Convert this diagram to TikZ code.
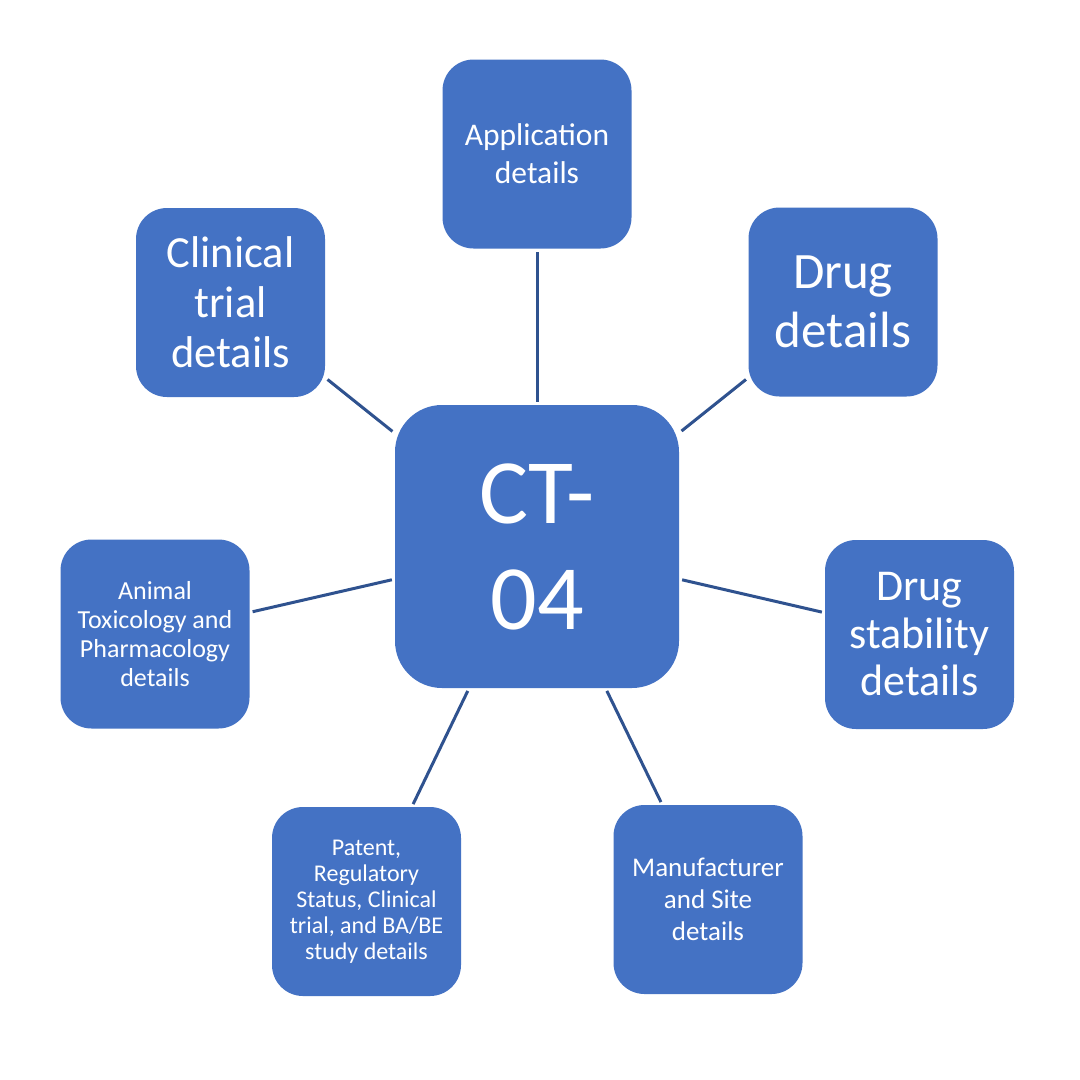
\documentclass[tikz,border=0pt]{standalone}
\usepackage{fontspec}
\setmainfont{Carlito}
\definecolor{boxblue}{HTML}{4472C4}
\definecolor{lineblue}{HTML}{2F528F}
\newcommand{\fs}[2]{\fontsize{#1}{#2}\selectfont}
\begin{document}
\begin{tikzpicture}[x=1pt,y=-1pt,
  boxnode/.style={fill=boxblue, rounded corners=31pt, minimum width=189pt, minimum height=189pt,
    inner sep=0pt, text=white, align=center},
  link/.style={draw=lineblue, line width=3pt, shorten <=3pt, shorten >=3pt}]
\useasboundingbox[fill=white] (0,0) rectangle (1080,1080);
\node[boxnode, rounded corners=47pt, minimum width=284pt, minimum height=283pt, font=\fs{92}{106}] (c) at (537,546.5) {CT-\\04};
\node[boxnode, font=\fs{31.5}{38}] (app) at (537,154) {Application\\details};
\node[boxnode, font=\fs{51}{59}] (drug) at (843,302) {Drug\\details};
\node[boxnode, font=\fs{44.5}{50}] (clin) at (230.5,302.5) {Clinical\\trial\\details};
\node[boxnode, font=\fs{26}{29}] (anim) at (155,634) {Animal\\Toxicology and\\Pharmacology\\details};
\node[boxnode, font=\fs{44}{47.5}] (stab) at (919.5,634.5) {Drug\\stability\\details};
\node[boxnode, font=\fs{24}{26}] (pat) at (366.5,901.5) {Patent,\\Regulatory\\Status, Clinical\\trial, and BA/BE\\study details};
\node[boxnode, font=\fs{27}{32}] (man) at (708,899.5) {Manufacturer\\and Site\\details};
\draw[link] (c) -- (app);
\draw[link] (c) -- (drug);
\draw[link] (c) -- (clin);
\draw[link] (c) -- (anim);
\draw[link] (c) -- (stab);
\draw[link] (c) -- (pat);
\draw[link] (c) -- (man);
\end{tikzpicture}
\end{document}
